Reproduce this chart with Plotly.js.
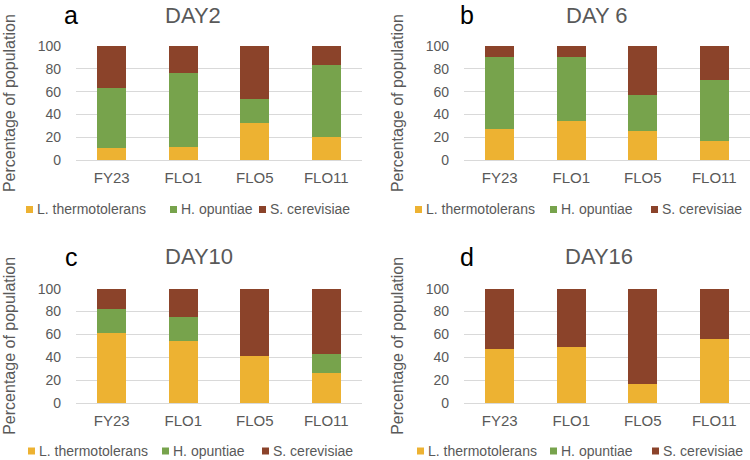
<!DOCTYPE html>
<html>
<head>
<meta charset="utf-8">
<script src="https://cdn.plot.ly/plotly-3.0.1.min.js"></script>
<style>html,body{margin:0;padding:0;background:#fff}#chart{width:750px;height:460px}</style>
</head>
<body>
<div id="chart"></div>
<script>
// ---- data ----
var strains = ["FY23", "FLO1", "FLO5", "FLO11"];
var seriesNames = ["L. thermotolerans", "H. opuntiae", "S. cerevisiae"];
var panelLetters = ["a", "b", "c", "d"];
var panelTitles = ["DAY2", "DAY 6", "DAY10", "DAY16"];
var yTicks = [0, 20, 40, 60, 80, 100];

// percentages per panel (L. thermotolerans, H. opuntiae, S. cerevisiae)
var day2_L = [11, 12, 33, 20];
var day2_H = [52, 64, 21, 63];
var day2_S = [37, 24, 46, 17];

var day6_L = [27, 34, 26, 17];
var day6_H = [63, 56, 31, 53];
var day6_S = [10, 10, 43, 30];

var day10_L = [61, 54, 41, 26];
var day10_H = [21, 21, 0, 17];
var day10_S = [18, 25, 59, 57];

var day16_L = [47, 49, 17, 56];
var day16_H = [0, 0, 0, 0];
var day16_S = [53, 51, 83, 44];

var colors = ["#EDB232", "#77A34C", "#8B432A"];

// ---- build ----
var panels = [
  [day2_L, day2_H, day2_S],
  [day6_L, day6_H, day6_S],
  [day10_L, day10_H, day10_S],
  [day16_L, day16_H, day16_S]
];

var W = 750, H = 460;
var xDom = [[76 / W, 362 / W], [464 / W, 750 / W], [76 / W, 362 / W], [464 / W, 750 / W]];
var yDom = [[1 - 160.3 / H, 1 - 46 / H], [1 - 160.3 / H, 1 - 46 / H], [1 - 403 / H, 1 - 288.7 / H], [1 - 403 / H, 1 - 288.7 / H]];

var grey = "#595959";
var font = "Liberation Sans, Arial, sans-serif";

var traces = [];
panels.forEach(function (p, i) {
  var suf = i === 0 ? "" : String(i + 1);
  p.forEach(function (vals, s) {
    traces.push({
      type: "bar",
      x: strains,
      y: vals,
      name: seriesNames[s],
      marker: { color: colors[s] },
      width: 0.4,
      xaxis: "x" + suf,
      yaxis: "y" + suf,
      showlegend: false,
      hoverinfo: "x+y+name"
    });
  });
});

var layout = {
  width: W, height: H,
  margin: { l: 0, r: 0, t: 0, b: 0 },
  paper_bgcolor: "#fff",
  plot_bgcolor: "#fff",
  barmode: "stack",
  font: { family: font, color: grey, size: 14 },
  annotations: [],
  shapes: []
};

for (var i = 0; i < 4; i++) {
  var suf = i === 0 ? "" : String(i + 1);
  layout["xaxis" + suf] = {
    domain: xDom[i],
    anchor: "y" + suf,
    type: "category",
    categoryorder: "array",
    categoryarray: strains,
    showgrid: false,
    showline: false,
    zeroline: false,
    ticks: "",
    ticklabelstandoff: 7,
    tickfont: { family: font, size: 15, color: grey },
    fixedrange: true
  };
  layout["yaxis" + suf] = {
    domain: yDom[i],
    anchor: "x" + suf,
    range: [0, 100],
    tickvals: yTicks,
    showgrid: true,
    gridcolor: "#D9D9D9",
    gridwidth: 1,
    zeroline: true,
    zerolinecolor: "#D9D9D9",
    zerolinewidth: 1,
    showline: false,
    ticks: "",
    ticklabelstandoff: 14,
    tickfont: { family: font, size: 14, color: grey },
    title: { text: "Percentage of population", font: { family: font, size: 16, color: grey }, standoff: 18 },
    fixedrange: true
  };
}

// panel letters and titles
var letterPos = [[71, 15], [466.7, 15], [71.7, 256.7], [466.7, 256.7]];
var titlePos = [[193, 15], [596.7, 15], [199, 256.7], [598.7, 256.7]];
for (var k = 0; k < 4; k++) {
  layout.annotations.push({
    xref: "paper", yref: "paper",
    x: letterPos[k][0] / W, y: 1 - letterPos[k][1] / H,
    xanchor: "center", yanchor: "middle",
    text: panelLetters[k], showarrow: false,
    font: { family: font, size: 25, color: "#000" }
  });
  layout.annotations.push({
    xref: "paper", yref: "paper",
    x: titlePos[k][0] / W, y: 1 - titlePos[k][1] / H,
    xanchor: "center", yanchor: "middle",
    text: panelTitles[k], showarrow: false,
    font: { family: font, size: 22, color: grey }
  });
}

// legends (one per panel): colour key square + label
var legendX = [[26, 170, 259], [415, 550, 651], [28, 162, 262], [417, 550, 652]];
var legendY = [209.5, 209.5, 451, 451];
var sq = 7;
for (var k2 = 0; k2 < 4; k2++) {
  for (var s2 = 0; s2 < 3; s2++) {
    var lx = legendX[k2][s2], ly = legendY[k2];
    layout.shapes.push({
      type: "rect", xref: "paper", yref: "paper",
      x0: lx / W, x1: (lx + sq) / W,
      y0: 1 - (ly + sq / 2) / H, y1: 1 - (ly - sq / 2) / H,
      fillcolor: colors[s2], line: { width: 0 }
    });
    layout.annotations.push({
      xref: "paper", yref: "paper",
      x: (lx + sq + 2) / W, y: 1 - (ly - 0.5) / H,
      xanchor: "left", yanchor: "middle",
      text: seriesNames[s2],
      showarrow: false,
      font: { family: font, size: 14, color: grey }
    });
  }
}

Plotly.newPlot("chart", traces, layout, { displayModeBar: false, staticPlot: true });
</script>
</body>
</html>
